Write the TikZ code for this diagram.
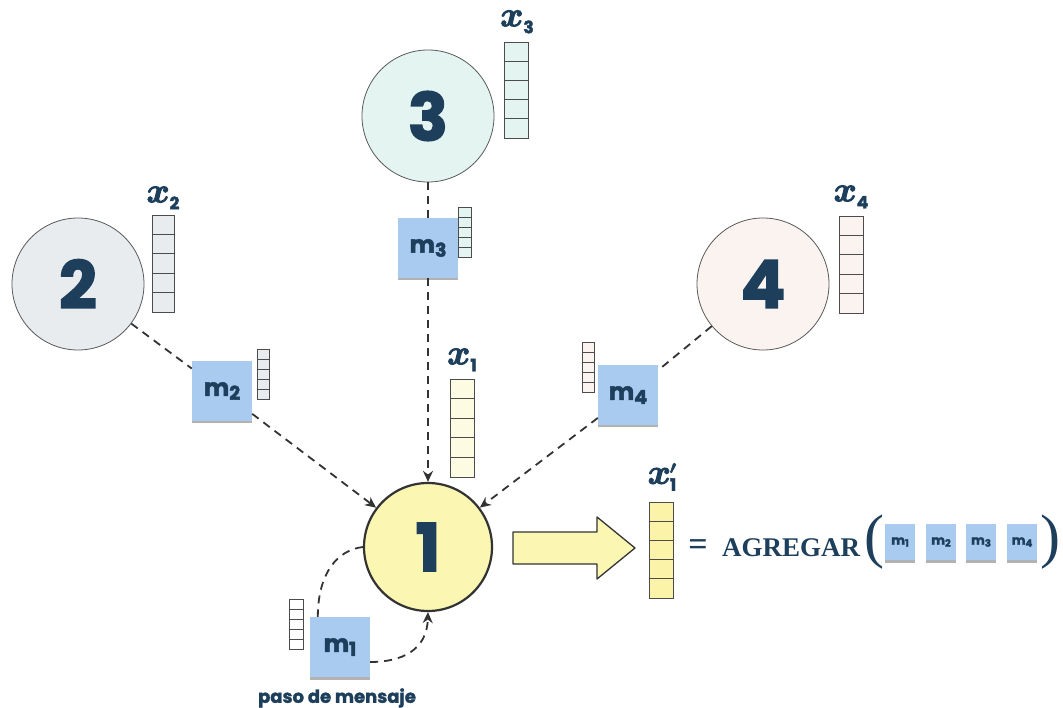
\RequirePackage{fix-cm}
\documentclass[tikz,border=0pt]{standalone}
\usepackage{fontspec}
\usetikzlibrary{arrows.meta,shadows,calc}
\newfontfamily\pop{Poppins}
\newfontfamily\serifb{Liberation Serif}
\definecolor{ink}{HTML}{1D3F5C}
\definecolor{edge}{HTML}{333333}
\definecolor{msgblue}{HTML}{A9CBF0}
\definecolor{tealf}{HTML}{E4F4F0}
\definecolor{grayf}{HTML}{E8ECEF}
\definecolor{peachf}{HTML}{FBF3EF}
\definecolor{yellowf}{HTML}{FBF6B2}
\definecolor{paley}{HTML}{FDFBE2}
\definecolor{aggy}{HTML}{FBF3A8}

% heavier glyphs: fill and stroke the outlines with the given line width
\newcommand\heavy[2]{\special{pdf:literal direct #1 w 2 Tr}#2\special{pdf:literal direct 0 Tr}}
% feature vector drawn as a column of five cells: x, y (top), width, height, fill
\newcommand\cellstack[5]{%
  \filldraw[vecline,fill=#5] (#1,#2) rectangle ++(#3,#4);
  \foreach \k in {1,2,3,4}{\draw[vecline] (#1,{#2+\k*#4/5}) -- ++(#3,0);}}
\newcommand\msglabel[1]{{\pop\bfseries\fontsize{24}{24}\selectfont\heavy{0.5}{m\raisebox{-4pt}{\fontsize{19}{19}\selectfont #1}}}}
\newcommand\tinymsg[1]{{\pop\bfseries\fontsize{13}{13}\selectfont\heavy{0.25}{m\raisebox{-2pt}{\fontsize{10}{10}\selectfont #1}}}}
\newcommand\featlabel[1]{{\fontsize{35}{35}\selectfont\boldmath\heavy{1}{$x$}\raisebox{-7pt}{\pop\bfseries\fontsize{17}{17}\selectfont\heavy{0.4}{#1}}}}
% label of the updated feature: prime above the index
\newcommand\featlabelp[1]{{\fontsize{35}{35}\selectfont\boldmath\heavy{1}{$x$}\kern-1pt\rlap{\raisebox{1pt}{\fontsize{26}{26}\selectfont\heavy{0.5}{$'$}}}\raisebox{-7pt}{\pop\bfseries\fontsize{17}{17}\selectfont\heavy{0.4}{#1}}}}

\begin{document}
\begin{tikzpicture}[x=1pt,y=-1pt,
  vecline/.style={draw=black!70,line width=0.7pt},
  nodecirc/.style={circle,draw=black!65,line width=0.8pt,minimum size=132pt,inner sep=0pt,
    text=ink,font=\pop\bfseries\fontsize{66}{66}\selectfont},
  msgbox/.style={rectangle,fill=msgblue,minimum width=60pt,minimum height=60pt,inner sep=0pt,text=ink,
    drop shadow={shadow xshift=0pt,shadow yshift=-2.5pt,opacity=0.3,fill=black}},
  aggbox/.style={msgbox,minimum width=30pt,minimum height=36pt},
  flow/.style={draw=edge,line width=1.8pt,dash pattern=on 8pt off 6pt},
  tip/.style={-{Stealth[length=11pt,width=10pt]}},
  lbl/.style={text=ink,inner sep=0pt}]
\useasboundingbox[fill=white] (0,0) rectangle (1063,708);

% graph nodes
\node[nodecirc,fill=tealf] (n3) at (428,116) {\heavy{1.5}{3}};
\node[nodecirc,fill=grayf] (n2) at (78,284) {\heavy{1.5}{2}};
\node[nodecirc,fill=peachf] (n4) at (763,284) {\heavy{1.5}{4}};
\node[nodecirc,fill=yellowf,draw=edge,line width=2.2pt,minimum size=128pt] (n1) at (428,547) {\heavy{1.5}{1}};

% messages
\node[msgbox] (m3) at (428,248) {\msglabel{3}};
\node[msgbox] (m2) at (222,391) {\msglabel{2}};
\node[msgbox] (m4) at (628,395) {\msglabel{4}};
\node[msgbox] (m1) at (340,647) {\msglabel{1}};

% message passing towards node 1
\draw[flow] (n3) -- (m3);
\draw[flow,tip] (m3) -- (n1);
\draw[flow] (n2) -- (m2);
\draw[flow,tip] (m2) -- (n1);
\draw[flow] (n4) -- (m4);
\draw[flow,tip] (m4) -- (n1);
\draw[flow] (n1.west) .. controls (338,550) and (318,572) .. ([xshift=8pt]m1.north west);
\draw[flow,tip] ([yshift=-15pt]m1.east) .. controls (402,662) and (427,650) .. (n1.south);

% feature vectors
\cellstack{504}{42}{24}{96}{tealf}
\cellstack{152}{215}{22}{97}{grayf}
\cellstack{839}{216}{24}{97}{peachf}
\cellstack{450}{379}{24}{98}{paley}
\cellstack{649}{502}{24}{96}{aggy}
% message vectors
\cellstack{458}{207}{13}{50}{tealf}
\cellstack{257}{349}{12}{50}{grayf}
\cellstack{582}{342}{12}{50}{peachf}
\cellstack{289}{599}{14}{50}{white}

% labels
\node[lbl] (lx3) at (517,22) {\featlabel{3}};
\node[lbl] (lx2) at (163,198) {\featlabel{2}};
\node[lbl] (lx4) at (851,197) {\featlabel{4}};
\node[lbl] (lx1) at (462,360) {\featlabel{1}};
\node[lbl] (lx1p) at (662,477) {\featlabelp{1}};
\node[lbl,font=\pop\bfseries\fontsize{18}{18}\selectfont] (cap) at (337,698) {\heavy{0.3}{paso de mensaje}};

% update arrow
\filldraw[draw=edge,line width=1.3pt,fill=yellowf,line join=round]
  (513,532) -- (597,532) -- (597,517) -- (635,548) -- (597,579) -- (597,564) -- (513,564) -- cycle;

% aggregation
\node[lbl,font=\serifb\bfseries\fontsize{34}{34}\selectfont] (eq) at (698,548) {=};
\node[lbl,font=\serifb\bfseries\fontsize{27}{27}\selectfont,anchor=west] (agr) at (722,548) {AGREGAR};
\node[lbl,font=\serifb\fontsize{60}{60}\selectfont] (lp) at (874,542) {(};
\node[aggbox] (a1) at (900,542) {\tinymsg{1}};
\node[aggbox] (a2) at (941,542) {\tinymsg{2}};
\node[aggbox] (a3) at (981,542) {\tinymsg{3}};
\node[aggbox] (a4) at (1022,542) {\tinymsg{4}};
\node[lbl,font=\serifb\fontsize{60}{60}\selectfont] (rp) at (1050,542) {)};
\end{tikzpicture}
\end{document}
